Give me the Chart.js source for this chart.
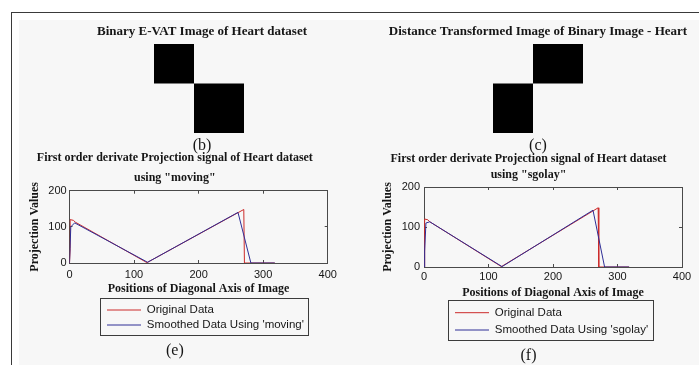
<!DOCTYPE html>
<html>
<head>
<meta charset="utf-8">
<title>Heart dataset - E-VAT images and projection signals</title>
<script src="https://cdn.jsdelivr.net/npm/chart.js@4/dist/chart.umd.min.js"></script>
<style>
  html, body { margin: 0; padding: 0; width: 699px; height: 365px; overflow: hidden; background: #fff; }
  .frame-top { position: absolute; left: 11px; top: 12px; right: 0; height: 1px; background: #3a3a3a; }
  .frame-left { position: absolute; left: 11px; top: 12px; bottom: 0; width: 1px; background: #3a3a3a; }
  .panel { position: absolute; left: 19px; top: 20px; right: 0; bottom: 0; background: #f7f7f7; }
  .box { position: absolute; }
  .box canvas { display: block; }
</style>
</head>
<body>
<div class="frame-top"></div>
<div class="frame-left"></div>
<div class="panel"></div>
<div class="box" style="left:82px;top:20px;width:240px;height:138px"><canvas id="evatChart"></canvas></div>
<div class="box" style="left:378px;top:20px;width:320px;height:138px"><canvas id="distChart"></canvas></div>
<div class="box" style="left:22px;top:145px;width:353px;height:220px"><canvas id="movingChart"></canvas></div>
<div class="box" style="left:375px;top:145px;width:350px;height:220px"><canvas id="sgolayChart"></canvas></div>

<script>
// Heart dataset: two clusters (absent / present)
const clusterSizes = [120, 150];
// [row block, column block] of each dark block
const evatBlocks = [[0, 0], [1, 1]];
const distBlocks = [[0, 1], [1, 0]];

// first order derivative projection signal along the diagonal
const originalX = [0, 1, 1, 6, 9, 120, 270, 271, 318];
const originalY = [0, 40, 120, 118, 113, 1, 148, 0, 0];
const movingX = [0, 2, 8, 121, 261, 281, 318];
const movingY = [0, 100, 111, 2, 140, 0, 0];
const sgolayX = [0, 1, 3, 9, 121, 262, 280, 318];
const sgolayY = [0, 40, 110, 113, 1, 142, 0, 0];

const xTicks = [0, 100, 200, 300, 400];
const yTicks = [0, 100, 200];

const serif = "'Liberation Serif', 'Times New Roman', serif";
const sans = "'Liberation Sans', Arial, sans-serif";
const ink = '#161616';
const axisGray = '#4a4a4a';
const red = '#cc2b2b';
const blue = '#2e2e96';

Chart.defaults.font.family = sans;
Chart.defaults.animation = false;
Chart.defaults.events = [];

const edges = [0];
clusterSizes.forEach(n => edges.push(edges[edges.length - 1] + n));
const total = edges[edges.length - 1];

const pts = (xs, ys) => xs.map((x, i) => ({ x: x, y: ys[i] }));

// each block is a filled closed line outline
function blockDatasets(blocks) {
  return blocks.map(([r, c]) => ({
    data: [
      { x: edges[c], y: edges[r + 1] },
      { x: edges[c], y: edges[r] },
      { x: edges[c + 1], y: edges[r] },
      { x: edges[c + 1], y: edges[r + 1] }
    ],
    fill: 'shape',
    backgroundColor: '#000',
    borderColor: 'rgba(0,0,0,0)',
    borderWidth: 1,
    pointRadius: 0,
    tension: 0
  }));
}

function imageChart(id, title, label, blocks, sideL, sideR) {
  const hidden = { ticks: { display: false }, grid: { display: false }, border: { display: false } };
  return new Chart(document.getElementById(id), {
    type: 'line',
    data: { datasets: blockDatasets(blocks) },
    options: {
      maintainAspectRatio: false,
      plugins: {
        legend: { display: false },
        tooltip: { enabled: false },
        title: {
          display: true, text: title, color: ink,
          font: { family: serif, size: 13, weight: 'bold', lineHeight: 1.2 },
          padding: { top: 4.2, bottom: 4.2 }
        },
        subtitle: {
          display: true, position: 'bottom', text: label, color: ink,
          font: { family: serif, size: 16, lineHeight: 1.2 },
          padding: { top: 3.4, bottom: 2.4 }
        }
      },
      scales: {
        x: { type: 'linear', display: false, min: 0, max: total },
        y: { min: 0, max: total, reverse: true, ...hidden, afterFit: s => { s.width = sideL; } },
        y2: { position: 'right', ...hidden, afterFit: s => { s.width = sideR; } }
      }
    }
  });
}

// moves the legend under the plot and draws the box around it
const legendFrame = {
  id: 'legendFrame',
  afterLayout(chart, args, opts) {
    const lg = chart.legend;
    const w = lg.width;
    lg.left = opts.x;
    lg.right = opts.x + w;
  },
  afterDraw(chart) {
    const lg = chart.legend;
    const pad = lg.options.labels.padding;
    const size = lg.options.labels.font.size;
    const firstY = lg.top + pad + size / 2;
    const lastY = firstY + (lg.lineWidths.length - 1) * (size + pad);
    const x0 = lg.left + pad;
    const rowW = Math.max(...lg.lineWidths) - pad;
    const left = Math.round(x0 - 7.5) + 0.5;
    const top = Math.round(firstY - 12.5) + 0.5;
    const right = Math.round(x0 + rowW + 4.5) + 0.5;
    const bottom = Math.round(lastY + 9.5) + 0.5;
    const ctx = chart.ctx;
    ctx.save();
    ctx.strokeStyle = '#3c3c3c';
    ctx.lineWidth = 1;
    ctx.strokeRect(left, top, right - left, bottom - top);
    ctx.restore();
  }
};

function setTicks(list) {
  return s => { s.ticks = list.map(v => ({ value: v })); };
}

function signalChart(id, method, smoothX, smoothY, label, g) {
  const tickGrid = { drawOnChartArea: false, tickLength: -3, color: axisGray };
  return new Chart(document.getElementById(id), {
    type: 'line',
    data: {
      datasets: [{
        label: 'Original Data',
        data: pts(originalX, originalY),
        borderColor: red, borderWidth: 1, pointRadius: 0, tension: 0, order: 1
      }, {
        label: "Smoothed Data Using '" + method + "'",
        data: pts(smoothX, smoothY),
        borderColor: blue, borderWidth: 1, pointRadius: 0, tension: 0, order: 0
      }]
    },
    plugins: [legendFrame],
    options: {
      maintainAspectRatio: false,
      layout: { padding: { right: g.padRight } },
      plugins: {
        tooltip: { enabled: false },
        title: {
          display: true, color: ink,
          text: ['First order derivate Projection signal of Heart dataset', 'using "' + method + '"'],
          font: { family: serif, size: 12, weight: 'bold', lineHeight: g.titleLine },
          padding: g.titlePad
        },
        subtitle: {
          display: true, position: 'bottom', text: label, color: ink,
          font: { family: serif, size: 16, lineHeight: 1.2 },
          padding: g.labelPad
        },
        legend: {
          position: 'bottom', align: 'start', fullSize: false,
          labels: {
            usePointStyle: true, pointStyle: 'line', pointStyleWidth: 34,
            color: ink, font: { family: sans, size: 11.5 }, padding: g.legendPad,
            sort: (a, b) => a.datasetIndex - b.datasetIndex
          }
        },
        legendFrame: { x: g.legendX }
      },
      scales: {
        x: {
          type: 'linear', min: 0, max: 400,
          afterBuildTicks: setTicks(xTicks),
          ticks: { color: ink, font: { size: 11 }, padding: g.xTickPad, maxRotation: 0, autoSkip: false },
          grid: tickGrid,
          border: { color: axisGray },
          title: {
            display: true, text: 'Positions of Diagonal Axis of Image', color: ink,
            font: { family: serif, size: 12, weight: 'bold', lineHeight: 1.2 },
            padding: { top: 0, bottom: g.xTitlePad }
          },
          afterFit: s => { s.height = g.xHeight; }
        },
        x2: {
          type: 'linear', position: 'top', min: 0, max: 400,
          afterBuildTicks: setTicks(xTicks),
          ticks: { display: false },
          grid: tickGrid,
          border: { color: axisGray },
          afterFit: s => { s.height = 0; }
        },
        y: {
          min: 0, max: 200,
          afterBuildTicks: setTicks(yTicks),
          ticks: { color: ink, font: { size: 11 }, padding: g.yTickPad },
          grid: tickGrid,
          border: { color: axisGray },
          title: {
            display: true, text: 'Projection Values', color: ink,
            font: { family: serif, size: 12, weight: 'bold', lineHeight: 1.2 },
            padding: { top: 5.8, bottom: 0 }
          },
          afterFit: s => { s.width = g.yWidth; }
        },
        y2: {
          position: 'right', min: 0, max: 200,
          afterBuildTicks: setTicks(yTicks),
          ticks: { display: false },
          grid: tickGrid,
          border: { color: axisGray },
          afterFit: s => { s.width = 0; }
        }
      }
    }
  });
}

// (b) binary E-VAT image
imageChart('evatChart', 'Binary E-VAT Image of Heart dataset', '(b)', evatBlocks, 72, 78);

// (c) distance transformed image
imageChart('distChart', 'Distance Transformed Image of Binary Image - Heart', '(c)', distBlocks, 115, 115);

// (e) moving average smoothing
signalChart('movingChart', 'moving', movingX, movingY, '(e)', {
  padRight: 47.3,
  titleLine: '20px', titlePad: { top: 3.3, bottom: 2.4 },
  xHeight: 37.75, xTickPad: 8.4, xTitlePad: 4.55,
  yWidth: 47.5, yTickPad: 5.8,
  legendPad: 3.5, legendX: 85 - 3.5,
  labelPad: { top: 0, bottom: 5.05 }
});

// (f) Savitzky-Golay smoothing
signalChart('sgolayChart', 'sgolay', sgolayX, sgolayY, '(f)', {
  padRight: 43,
  titleLine: '16px', titlePad: { top: 6, bottom: 4 },
  xHeight: 34.15, xTickPad: 6.1, xTitlePad: 1.25,
  yWidth: 49, yTickPad: 7,
  legendPad: 5.8, legendX: 80 - 5.8,
  labelPad: { top: 0, bottom: 0.05 }
});
</script>
</body>
</html>
